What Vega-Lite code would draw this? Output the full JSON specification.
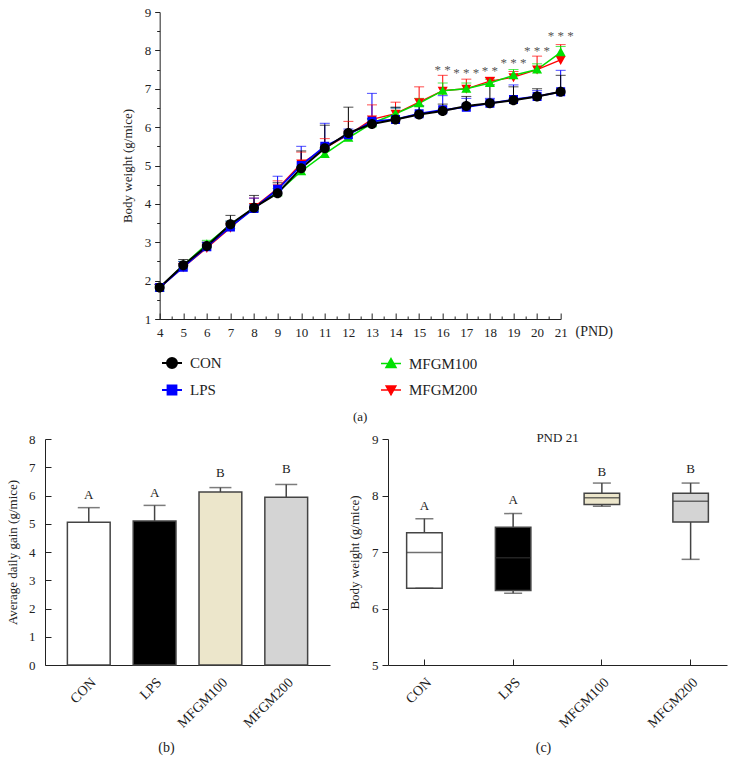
{
  "$schema": "https://vega.github.io/schema/vega-lite/v6.json",
  "padding": {"left": 6, "top": 6, "right": 6, "bottom": 6},
  "background": "white",
  "center": true,
  "spacing": 8,
  "config": {
    "font": "Liberation Serif",
    "view": {"stroke": null},
    "axis": {"labelFont": "Liberation Serif", "titleFont": "Liberation Serif", "labelFontSize": 13, "titleFontSize": 13, "titleFontWeight": "normal", "domainColor": "#222", "tickColor": "#222", "labelColor": "#222", "titleColor": "#222", "grid": false, "labelOverlap": false, "labelFlush": false},
    "legend": {"labelFont": "Liberation Serif", "labelColor": "#222"},
    "title": {"font": "Liberation Serif", "fontWeight": "normal", "fontSize": 13, "color": "#222"},
    "text": {"font": "Liberation Serif"}
  },
  "datasets": {
    "growth": [
      {"group":"MFGM200","pnd":4,"mean":1.82,"upper":1.9},
      {"group":"MFGM200","pnd":5,"mean":2.35,"upper":2.45},
      {"group":"MFGM200","pnd":6,"mean":2.85,"upper":2.95},
      {"group":"MFGM200","pnd":7,"mean":3.38,"upper":3.5},
      {"group":"MFGM200","pnd":8,"mean":3.92,"upper":4.15},
      {"group":"MFGM200","pnd":9,"mean":4.4,"upper":4.6},
      {"group":"MFGM200","pnd":10,"mean":5.05,"upper":5.35},
      {"group":"MFGM200","pnd":11,"mean":5.45,"upper":5.7},
      {"group":"MFGM200","pnd":12,"mean":5.8,"upper":6.15},
      {"group":"MFGM200","pnd":13,"mean":6.2,"upper":6.58},
      {"group":"MFGM200","pnd":14,"mean":6.35,"upper":6.65},
      {"group":"MFGM200","pnd":15,"mean":6.65,"upper":7.05},
      {"group":"MFGM200","pnd":16,"mean":6.95,"upper":7.35},
      {"group":"MFGM200","pnd":17,"mean":7.0,"upper":7.25},
      {"group":"MFGM200","pnd":18,"mean":7.2,"upper":7.3},
      {"group":"MFGM200","pnd":19,"mean":7.3,"upper":7.45},
      {"group":"MFGM200","pnd":20,"mean":7.5,"upper":7.85},
      {"group":"MFGM200","pnd":21,"mean":7.75,"upper":8.15},
      {"group":"MFGM100","pnd":4,"mean":1.82,"upper":1.88},
      {"group":"MFGM100","pnd":5,"mean":2.4,"upper":2.5},
      {"group":"MFGM100","pnd":6,"mean":2.95,"upper":3.05},
      {"group":"MFGM100","pnd":7,"mean":3.45,"upper":3.55},
      {"group":"MFGM100","pnd":8,"mean":3.9,"upper":4.0},
      {"group":"MFGM100","pnd":9,"mean":4.3,"upper":4.4},
      {"group":"MFGM100","pnd":10,"mean":4.85,"upper":4.95},
      {"group":"MFGM100","pnd":11,"mean":5.3,"upper":5.4},
      {"group":"MFGM100","pnd":12,"mean":5.72,"upper":5.82},
      {"group":"MFGM100","pnd":13,"mean":6.1,"upper":6.2},
      {"group":"MFGM100","pnd":14,"mean":6.35,"upper":6.5},
      {"group":"MFGM100","pnd":15,"mean":6.62,"upper":6.75},
      {"group":"MFGM100","pnd":16,"mean":6.95,"upper":7.15},
      {"group":"MFGM100","pnd":17,"mean":7.0,"upper":7.15},
      {"group":"MFGM100","pnd":18,"mean":7.15,"upper":7.25},
      {"group":"MFGM100","pnd":19,"mean":7.35,"upper":7.5},
      {"group":"MFGM100","pnd":20,"mean":7.5,"upper":7.65},
      {"group":"MFGM100","pnd":21,"mean":7.95,"upper":8.1},
      {"group":"LPS","pnd":4,"mean":1.82,"upper":1.9},
      {"group":"LPS","pnd":5,"mean":2.35,"upper":2.5},
      {"group":"LPS","pnd":6,"mean":2.88,"upper":3.0},
      {"group":"LPS","pnd":7,"mean":3.4,"upper":3.55},
      {"group":"LPS","pnd":8,"mean":3.88,"upper":4.15},
      {"group":"LPS","pnd":9,"mean":4.38,"upper":4.72},
      {"group":"LPS","pnd":10,"mean":5.0,"upper":5.5},
      {"group":"LPS","pnd":11,"mean":5.5,"upper":6.1},
      {"group":"LPS","pnd":12,"mean":5.8,"upper":5.95},
      {"group":"LPS","pnd":13,"mean":6.15,"upper":6.88},
      {"group":"LPS","pnd":14,"mean":6.2,"upper":6.5},
      {"group":"LPS","pnd":15,"mean":6.35,"upper":6.55},
      {"group":"LPS","pnd":16,"mean":6.45,"upper":6.82},
      {"group":"LPS","pnd":17,"mean":6.52,"upper":6.75},
      {"group":"LPS","pnd":18,"mean":6.62,"upper":6.75},
      {"group":"LPS","pnd":19,"mean":6.72,"upper":7.1},
      {"group":"LPS","pnd":20,"mean":6.8,"upper":6.95},
      {"group":"LPS","pnd":21,"mean":6.92,"upper":7.48},
      {"group":"CON","pnd":4,"mean":1.82,"upper":1.9},
      {"group":"CON","pnd":5,"mean":2.4,"upper":2.55},
      {"group":"CON","pnd":6,"mean":2.9,"upper":3.0},
      {"group":"CON","pnd":7,"mean":3.47,"upper":3.7},
      {"group":"CON","pnd":8,"mean":3.9,"upper":4.22},
      {"group":"CON","pnd":9,"mean":4.28,"upper":4.55},
      {"group":"CON","pnd":10,"mean":4.93,"upper":5.38},
      {"group":"CON","pnd":11,"mean":5.45,"upper":6.05},
      {"group":"CON","pnd":12,"mean":5.85,"upper":6.52},
      {"group":"CON","pnd":13,"mean":6.08,"upper":6.22},
      {"group":"CON","pnd":14,"mean":6.2,"upper":6.52},
      {"group":"CON","pnd":15,"mean":6.33,"upper":6.55},
      {"group":"CON","pnd":16,"mean":6.42,"upper":6.6},
      {"group":"CON","pnd":17,"mean":6.55,"upper":6.8},
      {"group":"CON","pnd":18,"mean":6.62,"upper":7.1},
      {"group":"CON","pnd":19,"mean":6.7,"upper":7.05},
      {"group":"CON","pnd":20,"mean":6.8,"upper":7.0},
      {"group":"CON","pnd":21,"mean":6.92,"upper":7.35}
    ],
    "stars": [
      {"pnd":16,"y":7.5,"s":"* *"},
      {"pnd":17,"y":7.42,"s":"* * *"},
      {"pnd":18,"y":7.47,"s":"* *"},
      {"pnd":19,"y":7.66,"s":"* * *"},
      {"pnd":20,"y":7.98,"s":"* * *"},
      {"pnd":21,"y":8.38,"s":"* * *"}
    ],
    "adg": [
      {"group":"CON","value":5.05,"upper":5.57,"letter":"A","ly":6.02},
      {"group":"LPS","value":5.1,"upper":5.65,"letter":"A","ly":6.1},
      {"group":"MFGM100","value":6.12,"upper":6.28,"letter":"B","ly":6.81},
      {"group":"MFGM200","value":5.94,"upper":6.39,"letter":"B","ly":6.93}
    ],
    "box": [
      {"group":"CON","min":6.36,"q1":6.36,"median":6.99,"q3":7.34,"max":7.59,"letter":"A","ly":7.81},
      {"group":"LPS","min":6.27,"q1":6.32,"median":6.9,"q3":7.44,"max":7.68,"letter":"A","ly":7.92},
      {"group":"MFGM100","min":7.81,"q1":7.84,"median":7.96,"q3":8.04,"max":8.22,"letter":"B","ly":8.42},
      {"group":"MFGM200","min":6.87,"q1":7.53,"median":7.9,"q3":8.04,"max":8.22,"letter":"B","ly":8.47}
    ]
  },
  "vconcat": [
    {
      "width": 401,
      "height": 307,
      "title": {"text": "(a)", "orient": "bottom", "offset": 69},
      "data": {"name": "growth"},
      "encoding": {
        "x": {"field": "pnd", "type": "quantitative",
          "scale": {"domain": [4, 21], "nice": false, "zero": false},
          "axis": {"values": [4,4.5,5,5.5,6,6.5,7,7.5,8,8.5,9,9.5,10,10.5,11,11.5,12,12.5,13,13.5,14,14.5,15,15.5,16,16.5,17,17.5,18,18.5,19,19.5,20,20.5,21],
            "labelExpr": "datum.value % 1 === 0 ? format(datum.value, 'd') : ''",
            "labelOverlap": false, "labelFlush": false, "labelBound": false,
            "tickSize": {"condition": {"test": "datum.value % 1 !== 0", "value": -3}, "value": -6},
            "labelPadding": 13,
            "title": "(PND)", "titleX": 434, "titleY": 12, "titleBaseline": "middle", "titleAlign": "center", "titleFontSize": 14}},
        "y": {"field": "mean", "type": "quantitative",
          "scale": {"domain": [1, 9], "nice": false, "zero": false},
          "axis": {"values": [1,1.5,2,2.5,3,3.5,4,4.5,5,5.5,6,6.5,7,7.5,8,8.5,9],
            "labelExpr": "datum.value % 1 === 0 ? format(datum.value, 'd') : ''",
            "labelOverlap": false, "labelFlush": false, "labelBound": false,
            "tickSize": {"condition": {"test": "datum.value % 1 !== 0", "value": 3}, "value": 5},
            "labelPadding": 4, "title": "Body weight (g/mice)", "titlePadding": 10}},
        "color": {"field": "group", "type": "nominal",
          "scale": {"domain": ["CON","LPS","MFGM100","MFGM200"], "range": ["#000000","#0000ff","#00e000","#ff0000"]},
          "legend": {"title": null, "orient": "none", "legendX": 116, "legendY": 340, "columns": 2, "columnPadding": 155, "rowPadding": 7, "labelFontSize": 15, "symbolSize": 400, "labelOffset": 7, "symbolStrokeWidth": 1.3, "symbolOpacity": 1}}
      },
      "layer": [
        {
          "mark": {"type": "rule", "strokeWidth": 1},
          "encoding": {
            "y2": {"field": "upper"}
          }
        },
        {
          "mark": {"type": "tick", "orient": "horizontal", "size": 10, "thickness": 1},
          "encoding": {
            "y": {"field": "upper", "type": "quantitative",
              "axis": {"values": [1,1.5,2,2.5,3,3.5,4,4.5,5,5.5,6,6.5,7,7.5,8,8.5,9],
                "labelExpr": "datum.value % 1 === 0 ? format(datum.value, 'd') : ''",
                "labelOverlap": false, "labelFlush": false, "labelBound": false,
                "tickSize": {"condition": {"test": "datum.value % 1 !== 0", "value": 3}, "value": 5},
                "labelPadding": 4, "title": "Body weight (g/mice)", "titlePadding": 10}}
          }
        },
        {
          "mark": {"type": "line"},
          "encoding": {
            "strokeWidth": {"field": "group", "type": "nominal",
              "scale": {"domain": ["CON","LPS","MFGM100","MFGM200"], "range": [2, 1.3, 1.1, 1.1]}, "legend": null}
          }
        },
        {
          "mark": {"type": "point", "filled": true, "opacity": 1, "size": 400, "strokeWidth": 0},
          "encoding": {
            "shape": {"field": "group", "type": "nominal",
              "scale": {"domain": ["CON","LPS","MFGM100","MFGM200"], "range": [
                "M-0.5,0A0.5,0.5,0,1,1,0.5,0A0.5,0.5,0,1,1,-0.5,0ZM-1,0L1,0",
                "M-0.45,-0.45L0.45,-0.45L0.45,0.45L-0.45,0.45ZM-1,0L1,0",
                "M0,-0.5L0.5,0.4L-0.5,0.4ZM-1,0L1,0",
                "M0,0.5L0.5,-0.4L-0.5,-0.4ZM-1,0L1,0"]},
              "legend": {"title": null, "orient": "none", "legendX": 116, "legendY": 340, "columns": 2, "columnPadding": 155, "rowPadding": 7, "labelFontSize": 15, "symbolSize": 400, "labelOffset": 7, "symbolStrokeWidth": 1.3, "symbolOpacity": 1}},
            "stroke": {"field": "group", "type": "nominal",
              "scale": {"domain": ["CON","LPS","MFGM100","MFGM200"], "range": ["#000000","#0000ff","#00e000","#ff0000"]},
              "legend": {"title": null, "orient": "none", "legendX": 116, "legendY": 340, "columns": 2, "columnPadding": 155, "rowPadding": 7, "labelFontSize": 15, "symbolSize": 400, "labelOffset": 7, "symbolStrokeWidth": 1.3, "symbolOpacity": 1}}
          }
        },
        {
          "data": {"name": "stars"},
          "mark": {"type": "text", "fontSize": 13, "baseline": "middle", "align": "center", "fill": "#555555"},
          "encoding": {
            "y": {"field": "y", "type": "quantitative",
              "axis": {"values": [1,1.5,2,2.5,3,3.5,4,4.5,5,5.5,6,6.5,7,7.5,8,8.5,9],
                "labelExpr": "datum.value % 1 === 0 ? format(datum.value, 'd') : ''",
                "labelOverlap": false, "labelFlush": false, "labelBound": false,
                "tickSize": {"condition": {"test": "datum.value % 1 !== 0", "value": 3}, "value": 5},
                "labelPadding": 4, "title": "Body weight (g/mice)", "titlePadding": 10}},
            "text": {"field": "s"},
            "color": {"value": "#555555"}
          }
        }
      ]
    },
    {
      "hconcat": [
        {
          "width": 285,
          "height": 226,
          "data": {"name": "adg"},
          "encoding": {
            "x": {"field": "group", "type": "nominal", "sort": null,
              "scale": {"paddingInner": 0.35, "paddingOuter": 0.34},
              "axis": {"labelAngle": -45, "labelFontSize": 14, "ticks": false, "labelPadding": 10, "title": "(b)", "titleX": 121, "titlePadding": 10, "titleFontSize": 14}},
            "y": {"field": "value", "type": "quantitative",
              "scale": {"domain": [0, 8], "nice": false},
              "axis": {"values": [0,1,2,3,4,5,6,7,8], "format": "d", "labelOverlap": false, "tickSize": -6, "labelPadding": 16, "title": "Average daily gain (g/mice)", "titlePadding": 9}}
          },
          "layer": [
            {
              "mark": {"type": "rule", "color": "#444", "strokeWidth": 1.5},
              "encoding": {
                "y2": {"field": "upper"}
              }
            },
            {
              "mark": {"type": "tick", "orient": "horizontal", "size": 22, "thickness": 1.5, "color": "#444"},
              "encoding": {"y": {"field": "upper", "type": "quantitative",
                "axis": {"values": [0,1,2,3,4,5,6,7,8], "format": "d", "labelOverlap": false, "tickSize": -6, "labelPadding": 16, "title": "Average daily gain (g/mice)", "titlePadding": 9}}}
            },
            {
              "mark": {"type": "bar", "stroke": "#444", "strokeWidth": 1.5},
              "encoding": {
                "fill": {"field": "group", "type": "nominal", "scale": {"domain": ["CON","LPS","MFGM100","MFGM200"], "range": ["#ffffff","#000000","#ece6cb","#d4d4d4"]}, "legend": null}
              }
            },
            {
              "mark": {"type": "text", "fontSize": 13, "baseline": "middle", "color": "#222"},
              "encoding": {
                "y": {"field": "ly", "type": "quantitative",
                  "axis": {"values": [0,1,2,3,4,5,6,7,8], "format": "d", "labelOverlap": false, "tickSize": -6, "labelPadding": 16, "title": "Average daily gain (g/mice)", "titlePadding": 9}},
                "text": {"field": "letter"}
              }
            }
          ]
        },
        {
          "width": 339,
          "height": 226,
          "title": {"text": "PND 21", "offset": -12},
          "data": {"name": "box"},
          "encoding": {
            "x": {"field": "group", "type": "nominal", "sort": null,
              "scale": {"paddingInner": 0.6, "paddingOuter": 0.21},
              "axis": {"labelAngle": -45, "labelFontSize": 14, "tickSize": -6, "labelPadding": 16, "title": "(c)", "titleX": 155, "titlePadding": 10, "titleFontSize": 14}}
          },
          "layer": [
            {
              "mark": {"type": "rule", "color": "#444", "strokeWidth": 1.5},
              "encoding": {
                "y": {"field": "min", "type": "quantitative",
                  "scale": {"domain": [5, 9], "nice": false, "zero": false},
                  "axis": {"values": [5,6,7,8,9], "format": "d", "labelOverlap": false, "tickSize": 6, "labelPadding": 4, "title": "Body weight (g/mice)", "titlePadding": 10}},
                "y2": {"field": "max"}
              }
            },
            {
              "mark": {"type": "bar", "stroke": "#444", "strokeWidth": 1.5},
              "encoding": {
                "y": {"field": "q1", "type": "quantitative"},
                "y2": {"field": "q3"},
                "fill": {"field": "group", "type": "nominal", "scale": {"domain": ["CON","LPS","MFGM100","MFGM200"], "range": ["#ffffff","#000000","#ece6cb","#d4d4d4"]}, "legend": null}
              }
            },
            {
              "mark": {"type": "tick", "orient": "horizontal", "size": 35, "thickness": 1.5, "color": "#333"},
              "encoding": {"y": {"field": "median", "type": "quantitative"}}
            },
            {
              "mark": {"type": "tick", "orient": "horizontal", "size": 18, "thickness": 1.5, "color": "#444"},
              "encoding": {"y": {"field": "max", "type": "quantitative"}}
            },
            {
              "mark": {"type": "tick", "orient": "horizontal", "size": 18, "thickness": 1.5, "color": "#444"},
              "encoding": {"y": {"field": "min", "type": "quantitative"}}
            },
            {
              "mark": {"type": "text", "fontSize": 13, "baseline": "middle", "color": "#222"},
              "encoding": {
                "y": {"field": "ly", "type": "quantitative"},
                "text": {"field": "letter"}
              }
            }
          ]
        }
      ],
      "spacing": 58,
      "bounds": "flush"
    }
  ]
}
